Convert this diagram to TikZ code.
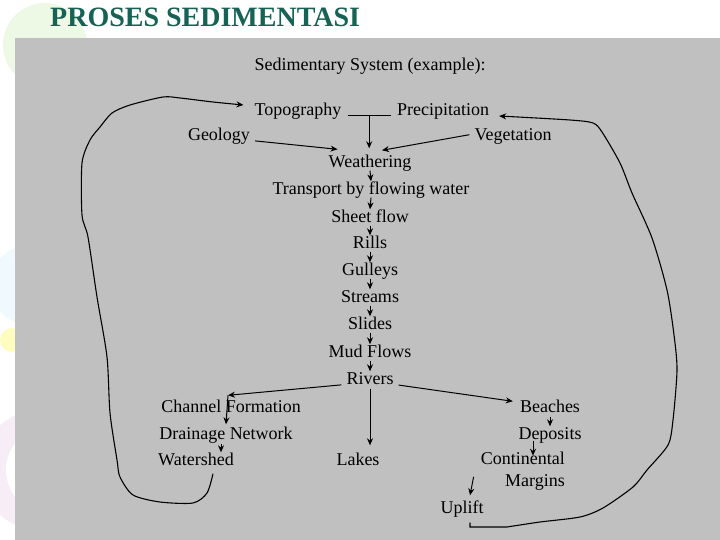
\documentclass[tikz,border=0pt]{standalone}
\usepackage{fontspec}
\setmainfont{Liberation Serif}
\usetikzlibrary{calc,arrows.meta}
\definecolor{panel}{RGB}{192,192,192}
\definecolor{titlecol}{RGB}{22,98,84}
\begin{document}
\begin{tikzpicture}[x=1pt,y=-1pt,
  lbl/.style={font=\fontsize{18}{22}\selectfont, inner sep=1pt, text height=12pt, text depth=3pt},
  lbltwo/.style={font=\fontsize{18}{22}\selectfont, inner sep=1pt, align=right},
  arr/.style={-{Stealth[length=7pt,width=6pt]}, line width=1pt},
  ln/.style={line width=1pt},
  loopline/.style={line width=1.1pt, -{Stealth[length=7pt,width=6pt]}}]
\useasboundingbox (0,0) rectangle (720,540);
% faint decorative background
\fill[yellow!30!green!10] (45,45) circle (42);
\fill[cyan!6] (30,285) circle (40);
\fill[yellow!25] (12,340) circle (12);
\fill[violet!7] (40,470) circle (60);
\fill[white] (50,470) circle (44);
% grey panel
\fill[panel] (15,38) rectangle (720,540);
% title
\node[anchor=base west, font=\fontsize{28}{30}\selectfont\bfseries, text=titlecol, inner sep=0pt] (title) at (50,27) {PROSES SEDIMENTASI};
\node[lbl] (head) at (370,66) {Sedimentary System (example):};
% top
\node[lbl] (topo) at (298,111) {Topography};
\node[lbl] (prec) at (443,111) {Precipitation};
\node[lbl] (geo) at (219,136) {Geology};
\node[lbl] (veg) at (513,136) {Vegetation};
% central stack
\node[lbl] (weath) at (370,163) {Weathering};
\node[lbl] (trans) at (371,190) {Transport by flowing water};
\node[lbl] (sheet) at (370,218) {Sheet flow};
\node[lbl] (rills) at (370,244) {Rills};
\node[lbl] (gull) at (370,271) {Gulleys};
\node[lbl] (stream) at (370,298) {Streams};
\node[lbl] (slides) at (370,325) {Slides};
\node[lbl] (mud) at (370,353) {Mud Flows};
\node[lbl] (rivers) at (370,380) {Rivers};
% bottom
\node[lbl] (chan) at (231,408) {Channel Formation};
\node[lbl] (drain) at (226,435) {Drainage Network};
\node[lbl] (wat) at (196,461) {Watershed};
\node[lbl] (lakes) at (358,461) {Lakes};
\node[lbl] (beach) at (550,408) {Beaches};
\node[lbl] (dep) at (550,435) {Deposits};
\node[lbltwo, anchor=north east] (cont) at (566,451) {Continental\\Margins};
\node[lbl] (upl) at (462,509) {Uplift};
% top connectors
\draw[ln, shorten <=5pt, shorten >=5pt] (topo.base east) -- (prec.base west);
\coordinate (tp) at ($(topo.base east)!0.5!(prec.base west)$);
\draw[arr, shorten >=6pt] (tp) -- (tp |- weath.north);
\draw[arr, shorten <=4pt] (geo.base east) -- ($(weath.north west)+(10,-5)$);
\draw[arr, shorten <=4pt] ($(veg.west)+(0,-2)$) -- ($(weath.north)+(12,-4)$);
% stack arrows
\foreach \a/\b in {weath/trans, trans/sheet, sheet/rills, rills/gull, gull/stream, stream/slides, slides/mud, mud/rivers}
  \draw[arr] ([yshift=1pt]\a.south) -- (\b.north);
% rivers branches
\draw[arr, shorten <=4pt] (rivers.base west) -- ($(chan.north)+(-3,-4)$);
\draw[arr, shorten <=4pt] (rivers.base east) -- ($(beach.north west)+(-6,2)$);
\draw[arr, shorten >=7pt] (rivers.south) -- (rivers.south |- lakes.north);
% left branch
\draw[arr] ($(chan.north)+(-3,-4)$) -- ($(drain.north)+(0,-2)$);
\draw[arr] ([xshift=-5pt]drain.south) -- ([xshift=-5pt]drain.south |- wat.north);
% right branch
\draw[arr] (beach.south) -- (dep.north);
\draw[arr] ($(dep.south)+(-17,-3)$) -- ($(dep.south)+(-17,12)$);
\draw[arr] ($(cont.south west)+(-6,-15)$) -- ($(upl.north)+(8,-5)$);
% big loops
\coordinate (wl) at ($(wat.south)+(17,4)$);
\coordinate (topoin) at ($(topo.west)+(-10,-6)$);
\draw[loopline] plot[smooth, tension=0.45] coordinates {(wl) (207,493) (193,503) (160,502) (133,495) (120,477) (117,460) (110,413) (107,357) (97,297) (88,237) (82,215) (82,163) (90,140) (100,127) (112,113) (130,105) (163,97) (180,98) (213,102) (topoin)};
\coordinate (ul) at ($(upl.south)+(8,5)$);
\coordinate (precin) at ($(prec.east)+(9,5)$);
\draw[loopline] (ul) -- (470,527) -- plot[smooth, tension=0.45] coordinates {(507,527) (540,522) (580,517) (603,508) (633,487) (647,470) (668,445) (673,420) (677,370) (674,335) (667,290) (652,238) (632,193) (620,163) (602,132) (593,123) (570,120) (precin)};
\end{tikzpicture}
\end{document}
